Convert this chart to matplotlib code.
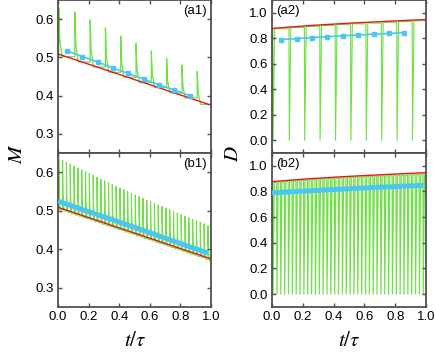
import numpy as np
import matplotlib.pyplot as plt
import matplotlib.ticker as ticker

plt.rcParams['font.family'] = ['Liberation Sans', 'DejaVu Sans']
plt.rcParams['mathtext.fontset'] = 'stix'
plt.rcParams['font.size'] = 9.5

green = '#6fe045'
red = '#e8141c'
cyan = '#4cc6f0'
spine_c = '#505050'

# ---- (a1) M, 10 cycles ----
spike_t_a = [0.005, 0.11, 0.21, 0.31, 0.41, 0.51, 0.61, 0.71, 0.81, 0.91]
peak_a1 = [0.630, 0.619, 0.598, 0.577, 0.556, 0.536, 0.517, 0.497, 0.480, 0.463]
floor_a1 = [0.502, 0.488, 0.475, 0.461, 0.448, 0.434, 0.421, 0.407, 0.394, 0.377]
red_t = [0.0, 1.0]
red_M = [0.509, 0.375]
avg_t_a = [0.06, 0.16, 0.26, 0.36, 0.46, 0.56, 0.66, 0.76, 0.86]
avg_a1 = [0.517, 0.502, 0.488, 0.472, 0.458, 0.443, 0.428, 0.415, 0.400]

# ---- (a2) D, 10 cycles ----
top_a2 = [0.874, 0.884, 0.892, 0.900, 0.907, 0.913, 0.919, 0.925, 0.931, 0.937]
bottom_a2 = [0.0, 0.0, 0.0, 0.0, 0.0, 0.0, 0.0, 0.0, 0.0, 0.0]
red_tD = [0.0, 0.25, 0.5, 0.75, 1.0]
red_D = [0.877, 0.900, 0.918, 0.933, 0.947]
avg_a2 = [0.790, 0.797, 0.805, 0.812, 0.819, 0.826, 0.832, 0.838, 0.843]

# ---- (b1) M, 40 cycles ----
spike_t_b = [0.005, 0.030, 0.055, 0.080, 0.105, 0.130, 0.155, 0.180, 0.205, 0.230,
             0.255, 0.280, 0.305, 0.330, 0.355, 0.380, 0.405, 0.430, 0.455, 0.480,
             0.505, 0.530, 0.555, 0.580, 0.605, 0.630, 0.655, 0.680, 0.705, 0.730,
             0.755, 0.780, 0.805, 0.830, 0.855, 0.880, 0.905, 0.930, 0.955, 0.980]
peak_b1 = [0.636, 0.631, 0.626, 0.621, 0.616, 0.611, 0.606, 0.602, 0.597, 0.592,
           0.587, 0.582, 0.578, 0.573, 0.568, 0.564, 0.559, 0.555, 0.550, 0.545,
           0.541, 0.537, 0.532, 0.528, 0.524, 0.519, 0.515, 0.511, 0.507, 0.503,
           0.499, 0.494, 0.490, 0.486, 0.482, 0.478, 0.474, 0.470, 0.466, 0.461]
floor_b1 = [0.503, 0.499, 0.496, 0.492, 0.489, 0.486, 0.482, 0.479, 0.476, 0.472,
            0.469, 0.465, 0.462, 0.459, 0.455, 0.452, 0.449, 0.445, 0.442, 0.439,
            0.435, 0.432, 0.428, 0.425, 0.422, 0.418, 0.415, 0.412, 0.408, 0.405,
            0.401, 0.398, 0.395, 0.391, 0.388, 0.385, 0.381, 0.378, 0.374, 0.370]
avg_t_b = [0.0, 0.5, 0.98]
avg_b1 = [0.525, 0.457, 0.390]

# ---- (b2) D, 40 cycles ----
top_b2 = [0.870, 0.873, 0.875, 0.878, 0.880, 0.882, 0.884, 0.887, 0.889, 0.891,
          0.893, 0.895, 0.897, 0.899, 0.900, 0.902, 0.904, 0.905, 0.907, 0.909,
          0.910, 0.912, 0.913, 0.914, 0.916, 0.917, 0.919, 0.920, 0.921, 0.922,
          0.924, 0.925, 0.926, 0.927, 0.928, 0.930, 0.931, 0.932, 0.933, 0.934]
avg_b2 = [0.790, 0.822, 0.848]


def spikes(ts, peaks, floors, width):
    # vertical rise at each t, quick decay back to the new floor
    x, y = [0.0], [floors[0]]
    prev = floors[0]
    for t, p, f in zip(ts, peaks, floors):
        x += [t, t, t + width * 0.3, t + width]
        y += [prev, p, f + 0.35 * (p - f), f]
        prev = f
    x.append(1.0)
    y.append(prev)
    return x, y


def dips(ts, tops, bottoms, width):
    x, y = [0.0], [tops[0]]
    prev = tops[0]
    for t, tp, b in zip(ts, tops, bottoms):
        x += [t, t + width * 0.2, t + width]
        y += [prev, b, tp]
        prev = tp
    x.append(1.0)
    y.append(prev)
    return x, y


fig = plt.figure(figsize=(4.36, 3.54), dpi=100)
W, H = 436, 354
ax_a1 = fig.add_axes([58 / W, 1 - 153 / H, 153 / W, 153 / H])
ax_b1 = fig.add_axes([58 / W, 1 - 307 / H, 153 / W, 154 / H])
ax_a2 = fig.add_axes([272 / W, 1 - 153 / H, 154 / W, 153 / H])
ax_b2 = fig.add_axes([272 / W, 1 - 307 / H, 154 / W, 154 / H])

gx, gy = spikes(spike_t_a, peak_a1, floor_a1, 0.022)
ax_a1.plot(gx, gy, color=green, lw=0.9, zorder=1)
ax_a1.plot(red_t, red_M, color=red, lw=1.0, zorder=2)
ax_a1.plot(avg_t_a, avg_a1, color=cyan, lw=1.2, marker='s', ms=3.2, zorder=3)

gx, gy = dips(spike_t_a, top_a2, bottom_a2, 0.012)
ax_a2.plot(gx, gy, color=green, lw=0.8, zorder=1)
ax_a2.plot(red_tD, red_D, color=red, lw=1.0, zorder=2)
ax_a2.plot(avg_t_a, avg_a2, color=cyan, lw=1.2, marker='s', ms=3.2, zorder=3)

gx, gy = spikes(spike_t_b, peak_b1, floor_b1, 0.009)
ax_b1.plot(gx, gy, color=green, lw=0.8, zorder=1)
ax_b1.plot(red_t, red_M, color=red, lw=1.0, zorder=2)
ax_b1.plot(avg_t_b, avg_b1, color=cyan, lw=3.6, zorder=3, solid_capstyle='butt')

gx, gy = dips(spike_t_b, top_b2, [0.0] * len(top_b2), 0.01)
ax_b2.plot(gx, gy, color=green, lw=0.85, zorder=1)
ax_b2.plot(red_tD, red_D, color=red, lw=1.0, zorder=2)
ax_b2.plot(avg_t_b, avg_b2, color=cyan, lw=3.6, zorder=3, solid_capstyle='butt')

for ax in (ax_a1, ax_b1, ax_a2, ax_b2):
    ax.set_xlim(0, 1)
    ax.xaxis.set_major_locator(ticker.MultipleLocator(0.2))
    ax.xaxis.set_major_formatter(ticker.FormatStrFormatter('%.1f'))
    ax.yaxis.set_major_formatter(ticker.FormatStrFormatter('%.1f'))
    ax.tick_params(direction='in', top=True, right=True, length=3, width=1,
                   color=spine_c, pad=3)
    for s in ax.spines.values():
        s.set_color(spine_c)
        s.set_linewidth(1.3)

for ax in (ax_a1, ax_b1):
    ax.set_ylim(0.25, 0.65)
    ax.yaxis.set_major_locator(ticker.MultipleLocator(0.1))
for ax in (ax_a2, ax_b2):
    ax.set_ylim(-0.1, 1.1)
    ax.yaxis.set_major_locator(ticker.MultipleLocator(0.2))
for ax in (ax_a1, ax_a2):
    ax.tick_params(labelbottom=False)

ax_a1.text(0.975, 0.965, '(a1)', transform=ax_a1.transAxes, ha='right', va='top')
ax_b1.text(0.975, 0.965, '(b1)', transform=ax_b1.transAxes, ha='right', va='top')
ax_a2.text(0.03, 0.965, '(a2)', transform=ax_a2.transAxes, ha='left', va='top')
ax_b2.text(0.03, 0.965, '(b2)', transform=ax_b2.transAxes, ha='left', va='top')

fig.text(16 / W, 1 - 154 / H, '$M$', rotation=90, fontsize=15, ha='center', va='center')
fig.text(232 / W, 1 - 154 / H, '$D$', rotation=90, fontsize=15, ha='center', va='center')
fig.text(135 / W, 1 - 341 / H, r'$t/\tau$', fontsize=15, ha='center', va='center')
fig.text(349 / W, 1 - 341 / H, r'$t/\tau$', fontsize=15, ha='center', va='center')

fig.savefig('out.png', dpi=100)
